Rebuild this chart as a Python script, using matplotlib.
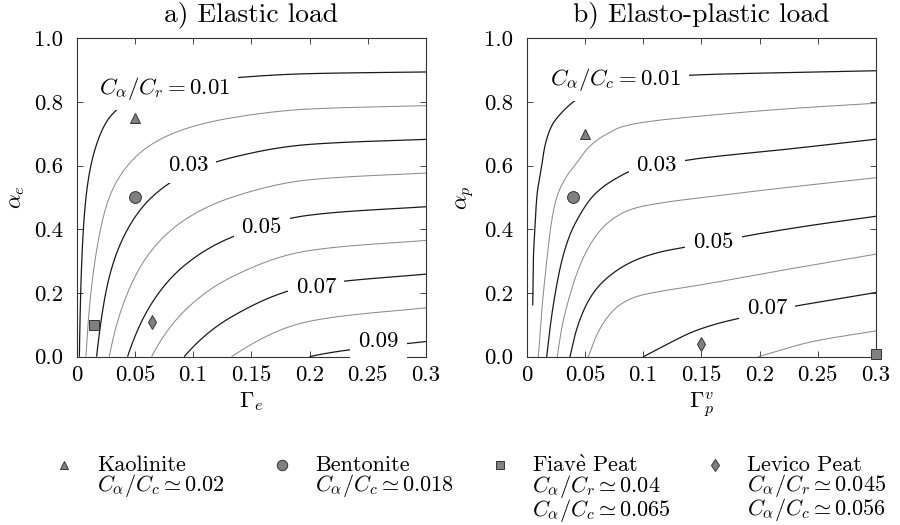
import numpy as np
import matplotlib.pyplot as plt

plt.rcParams["font.family"] = "serif"
plt.rcParams["font.serif"] = ["cmr10"]
plt.rcParams["mathtext.fontset"] = "cm"
plt.rcParams["axes.formatter.use_mathtext"] = True
plt.rcParams["font.size"] = 16.5

# elastic panel: C_alpha/C_r reached at alpha_e = 0 along Gamma_e
cross_gam_a = [0.0, 0.0023, 0.008, 0.0171, 0.028, 0.0437, 0.0643, 0.0923, 0.133, 0.2, 0.3]
cross_val_a = [0.0, 0.01, 0.02, 0.03, 0.04, 0.05, 0.06, 0.07, 0.08, 0.09, 0.0945]
levels_a = [0.01, 0.02, 0.03, 0.04, 0.05, 0.06, 0.07, 0.08, 0.09]

# elasto-plastic panel: contour lines read point by point (Gamma_p^v, alpha_p)
gam_b1 = [0.0052, 0.0057, 0.0071, 0.0088, 0.0125, 0.0157, 0.0215, 0.0315, 0.0444, 0.07, 0.1, 0.1404, 0.22, 0.3]
alp_b1 = [0.163, 0.30, 0.405, 0.505, 0.59, 0.662, 0.725, 0.772, 0.811, 0.85, 0.87, 0.884, 0.892, 0.898]
gam_b2 = [0.01, 0.0129, 0.0172, 0.0206, 0.0243, 0.0272, 0.0344, 0.043, 0.0516, 0.0616, 0.0716, 0.0802, 0.0946, 0.1089, 0.149, 0.218, 0.3]
alp_b2 = [0.0, 0.142, 0.30, 0.405, 0.48, 0.515, 0.567, 0.609, 0.651, 0.683, 0.705, 0.72, 0.7325, 0.7405, 0.7555, 0.777, 0.796]
gam_b3 = [0.0172, 0.02, 0.0243, 0.0301, 0.0372, 0.0458, 0.0559, 0.0659, 0.0774, 0.0888, 0.11, 0.1376, 0.149, 0.222, 0.3]
alp_b3 = [0.0, 0.089, 0.194, 0.30, 0.383, 0.446, 0.50, 0.534, 0.561, 0.582, 0.60, 0.617, 0.623, 0.651, 0.683]
gam_b4 = [0.0263, 0.0301, 0.0372, 0.0473, 0.0602, 0.0745, 0.0917, 0.1175, 0.149, 0.22, 0.3]
alp_b4 = [0.0, 0.089, 0.194, 0.30, 0.383, 0.434, 0.465, 0.484, 0.499, 0.53, 0.562]
gam_b5 = [0.0372, 0.0415, 0.0473, 0.0544, 0.063, 0.0745, 0.086, 0.1003, 0.1175, 0.1347, 0.16, 0.182, 0.24, 0.3]
alp_b5 = [0.0, 0.068, 0.131, 0.184, 0.226, 0.263, 0.29, 0.313, 0.331, 0.343, 0.36, 0.375, 0.41, 0.441]
gam_b6 = [0.053, 0.0602, 0.0688, 0.0802, 0.0946, 0.1146, 0.147, 0.222, 0.3]
alp_b6 = [0.0, 0.068, 0.121, 0.163, 0.189, 0.205, 0.224, 0.273, 0.322]
gam_b7 = [0.1003, 0.12, 0.1447, 0.165, 0.1806, 0.205, 0.228, 0.265, 0.3]
alp_b7 = [0.0, 0.038, 0.081, 0.105, 0.119, 0.14, 0.157, 0.18, 0.2016]
gam_b8 = [0.199, 0.245, 0.3]
alp_b8 = [0.0, 0.047, 0.081]

# contour labels
lab_text_a = [r"$C_\alpha/C_r = 0.01$", "0.03", "0.05", "0.07", "0.09"]
lab_gam_a = [0.0757, 0.0957, 0.159, 0.2057, 0.259]
lab_alp_a = [0.843, 0.602, 0.405, 0.219, 0.05]
lab_text_b = [r"$C_\alpha/C_c = 0.01$", "0.03", "0.05", "0.07"]
lab_gam_b = [0.0759, 0.1118, 0.1605, 0.2064]
lab_alp_b = [0.872, 0.602, 0.36, 0.152]

# soils
soil_names = ["Kaolinite", "Bentonite", r"Fiav$\grave{\mathrm{e}}$ Peat", "Levico Peat"]
soil_notes = [[r"$C_\alpha/C_c \simeq 0.02$"],
              [r"$C_\alpha/C_c \simeq 0.018$"],
              [r"$C_\alpha/C_r \simeq 0.04$", r"$C_\alpha/C_c \simeq 0.065$"],
              [r"$C_\alpha/C_r \simeq 0.045$", r"$C_\alpha/C_c \simeq 0.056$"]]
soil_markers = ["^", "o", "s", "d"]
soil_msize = [7, 8.5, 7, 7]
elastic_gam = [0.05, 0.05, 0.015, 0.065]
elastic_alp = [0.75, 0.5, 0.1, 0.11]
plastic_gam = [0.05, 0.04, 0.3, 0.15]
plastic_alp = [0.70, 0.5, 0.01, 0.04]

BLACK = "#1a1a1a"
GRAY = "#8c8c8c"
MFILL = "#808080"


def pchip(x, y, xq):
    x = np.asarray(x, float)
    y = np.asarray(y, float)
    h = np.diff(x)
    d = np.diff(y) / h
    m = np.empty_like(y)
    m[0], m[-1] = d[0], d[-1]
    for k in range(1, len(x) - 1):
        if d[k - 1] * d[k] <= 0:
            m[k] = 0.0
        else:
            w1 = 2 * h[k] + h[k - 1]
            w2 = h[k] + 2 * h[k - 1]
            m[k] = (w1 + w2) / (w1 / d[k - 1] + w2 / d[k])
    i = np.clip(np.searchsorted(x, xq) - 1, 0, len(h) - 1)
    t = (xq - x[i]) / h[i]
    return (y[i] * (2 * t**3 - 3 * t**2 + 1) + h[i] * m[i] * (t**3 - 2 * t**2 + t)
            + y[i + 1] * (-2 * t**3 + 3 * t**2) + h[i] * m[i + 1] * (t**3 - t**2))


def smooth_line(gam, alp):
    gam = np.asarray(gam)
    alp = np.asarray(alp)
    s = np.concatenate([[0], np.cumsum(np.hypot(np.diff(gam) * 3.66, np.diff(alp)))])
    sq = np.linspace(0, s[-1], 300)
    return pchip(s, gam, sq), pchip(s, alp, sq)


def style_axes(ax, xlab, ylab, title):
    ax.set_xlim(0, 0.3)
    ax.set_ylim(0, 1)
    ax.set_xticks([0, 0.05, 0.1, 0.15, 0.2, 0.25, 0.3],
                  ["0", "0.05", "0.1", "0.15", "0.2", "0.25", "0.3"])
    ax.set_yticks([0, 0.2, 0.4, 0.6, 0.8, 1.0],
                  ["0.0", "0.2", "0.4", "0.6", "0.8", "1.0"])
    ax.tick_params(direction="in", top=True, right=True, length=4, width=0.7,
                   color="#444444")
    ax.tick_params(axis="x", pad=6)
    ax.tick_params(axis="y", pad=10)
    for sp in ax.spines.values():
        sp.set_linewidth(0.8)
        sp.set_color("#333333")
    ax.set_xlabel(xlab, labelpad=4)
    ax.set_ylabel(ylab, labelpad=5)
    ax.set_title(title, pad=12)


def add_labels(ax, texts, gx, ay):
    for t, x, y in zip(texts, gx, ay):
        ax.text(x, y, t, ha="center", va="center", zorder=4,
                bbox=dict(boxstyle="square,pad=0.35", fc="white", ec="none"))


def add_soils(ax, gx, ay):
    for mk, ms, x, y in zip(soil_markers, soil_msize, gx, ay):
        ax.plot(x, y, marker=mk, ms=ms, mfc=MFILL, mec="#333333", mew=0.7,
                ls="none", zorder=6, clip_on=False)


fig = plt.figure(figsize=(9, 5.25), dpi=100)
ax_a = fig.add_axes([0.0852, 0.3206, 0.3881, 0.6065])
ax_b = fig.add_axes([0.5852, 0.3206, 0.3881, 0.6065])

# a) elastic load
G, A = np.meshgrid(np.linspace(1e-4, 0.3, 500), np.linspace(0, 1, 400))
g_a = pchip(np.sqrt(cross_gam_a), cross_val_a, np.sqrt(G))
F = (1 - A) * g_a
cols = [BLACK if i % 2 == 0 else GRAY for i in range(len(levels_a))]
lws = [0.9 if i % 2 == 0 else 0.75 for i in range(len(levels_a))]
ax_a.contour(G, A, F, levels=levels_a, colors=cols, linewidths=lws, zorder=2)
add_labels(ax_a, lab_text_a, lab_gam_a, lab_alp_a)
add_soils(ax_a, elastic_gam, elastic_alp)
style_axes(ax_a, r"$\Gamma_e$", r"$\alpha_e$", "a) Elastic load")

# b) elasto-plastic load
lines_b = [(gam_b1, alp_b1), (gam_b2, alp_b2), (gam_b3, alp_b3), (gam_b4, alp_b4),
           (gam_b5, alp_b5), (gam_b6, alp_b6), (gam_b7, alp_b7), (gam_b8, alp_b8)]
for i, (gx, ay) in enumerate(lines_b):
    xs, ys = smooth_line(gx, ay)
    ax_b.plot(xs, ys, color=BLACK if i % 2 == 0 else GRAY,
              lw=0.9 if i % 2 == 0 else 0.75, zorder=2)
add_labels(ax_b, lab_text_b, lab_gam_b, lab_alp_b)
add_soils(ax_b, plastic_gam, plastic_alp)
style_axes(ax_b, r"$\Gamma_p^v$", r"$\alpha_p$", "b) Elasto-plastic load")

# legend below the panels, in pixel coordinates
lax = fig.add_axes([0, 0, 1, 1], zorder=-1)
lax.set_xlim(0, 900)
lax.set_ylim(525, 0)
lax.axis("off")
mark_x = [64, 282, 500, 715]
text_x = [97, 315, 532, 747]
for k in range(4):
    lax.plot(mark_x[k], 465, marker=soil_markers[k], ms=soil_msize[k] - 1,
             mfc=MFILL, mec="#333333", mew=0.7, ls="none")
    block = "\n".join([soil_names[k]] + soil_notes[k])
    lax.text(text_x[k], 455, block, ha="left", va="top", fontsize=16,
             linespacing=0.85)

fig.savefig("out.png", dpi=100)
